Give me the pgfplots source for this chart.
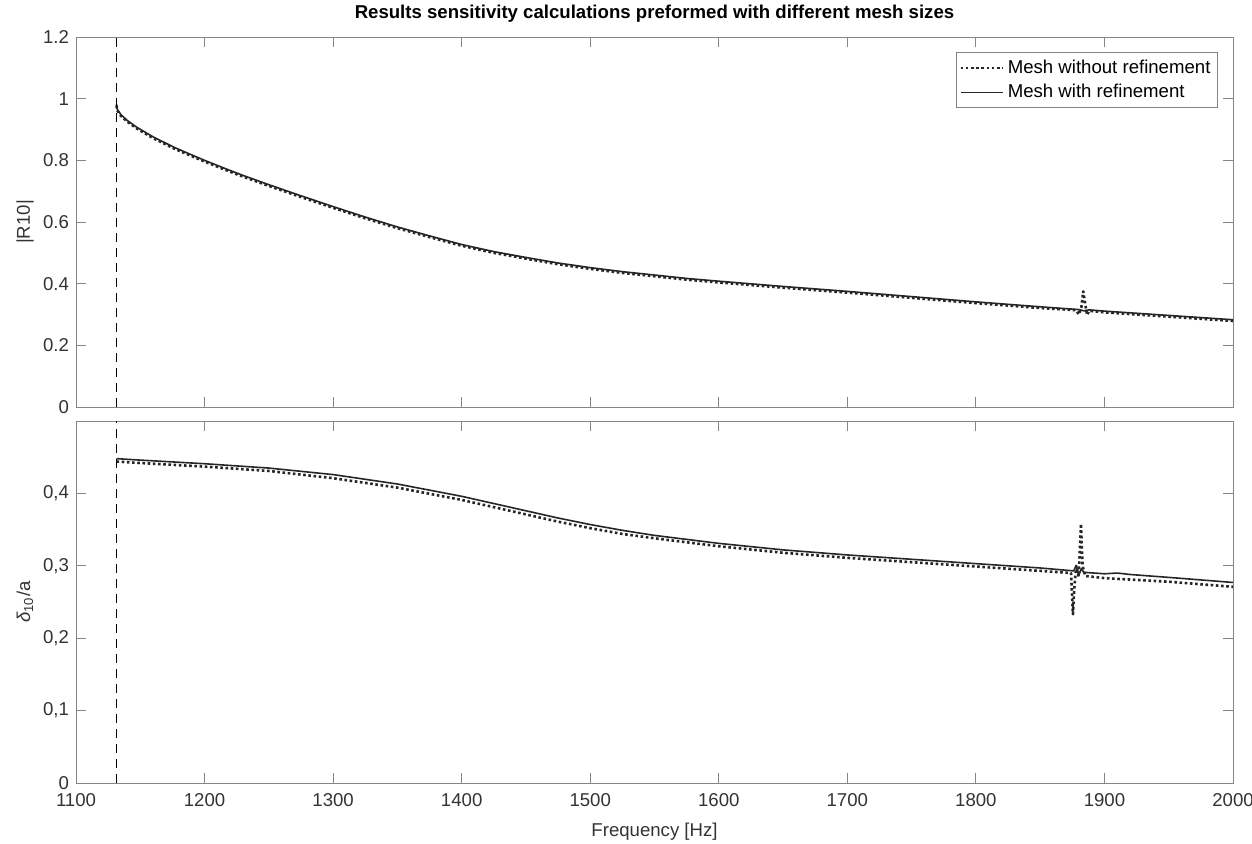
\documentclass[border=0pt]{standalone}
\usepackage{fontspec}
\setmainfont{Liberation Sans}
\usepackage{pgfplots}
\pgfplotsset{compat=1.18}
\definecolor{axgray}{rgb}{0.52,0.52,0.52}
\definecolor{lblgray}{rgb}{0.2,0.2,0.2}
\begin{document}
\begin{tikzpicture}
\pgfplotsset{
  every axis/.append style={
    scale only axis, width=578.5pt,
    xmin=1100, xmax=2000,
    axis line style={axgray, line width=0.5pt},
    every tick/.style={axgray, line width=0.5pt},
    major tick length=5pt,
    tick align=inside,
    xtick={1100,1200,...,2000},
    tick label style={font=\fontsize{9.3}{11}\selectfont, text=lblgray},
    label style={font=\fontsize{9.3}{11}\selectfont, text=lblgray},
    clip=true,
  },
  dotline/.style={black!85, line width=1.3pt, dash pattern=on 1.3pt off 1.3pt, line join=round},
  solline/.style={black!85, line width=0.8pt, line join=round},
  vdash/.style={black, line width=0.6pt, dash pattern=on 4.5pt off 3pt},
}
% top axis
\begin{axis}[
  at={(38pt,218pt)}, anchor=south west, height=185pt,
  ymin=0, ymax=1.2,
  ytick={0,0.2,0.4,0.6,0.8,1,1.2},
  yticklabels={0,0.2,0.4,0.6,0.8,1,1.2},
  xticklabels={},
  ylabel={|R10|},
  ylabel style={at={(rel axis cs:0,0.5)}, anchor=center, yshift=25.5pt},
  title={\bfseries Results sensitivity calculations preformed with different mesh sizes},
  title style={at={(0.5,1)}, anchor=base, yshift=3.5pt, font=\fontsize{9.3}{11}\selectfont, text=black},
  legend style={at={(rel axis cs:0.987,0.959)}, anchor=north east, draw=axgray, line width=0.5pt,
    font=\fontsize{9.3}{11}\selectfont, text=black, inner sep=1.5pt, row sep=0pt,
    cells={anchor=west}},
  legend image code/.code={\draw[#1] (0pt,0pt) -- (21pt,0pt);},
]
\addplot[dotline] coordinates {
(1131.5,0.978) (1132,0.962) (1135,0.944) (1140,0.925) (1147,0.904) (1160,0.872)
(1177,0.837) (1187,0.819) (1200,0.796) (1215,0.771) (1230,0.747) (1250,0.717)
(1275,0.681) (1300,0.646)
(1325,0.612) (1350,0.580) (1375,0.551) (1400,0.523) (1425,0.500) (1450,0.481)
(1475,0.463) (1500,0.448) (1525,0.435) (1550,0.424) (1575,0.413) (1600,0.404)
(1650,0.387) (1700,0.371) (1750,0.354) (1800,0.337) (1850,0.321) (1878,0.314)
(1880,0.300) (1882,0.322) (1883.5,0.375) (1885,0.335) (1886.5,0.298) (1888,0.312)
(1900,0.307) (1950,0.293) (2000,0.279)
};
\addlegendentry{Mesh without refinement}
\addplot[solline] coordinates {
(1131.5,0.982) (1132,0.966) (1135,0.948) (1140,0.929) (1147,0.908) (1160,0.876)
(1177,0.841) (1187,0.823) (1200,0.800) (1215,0.775) (1230,0.751) (1250,0.721)
(1275,0.685) (1300,0.650)
(1325,0.616) (1350,0.584) (1375,0.555) (1400,0.527) (1425,0.504) (1450,0.485)
(1475,0.467) (1500,0.452) (1525,0.439) (1550,0.428) (1575,0.417) (1600,0.408)
(1650,0.391) (1700,0.375) (1750,0.358) (1800,0.341) (1850,0.325) (1880,0.316)
(1884,0.312) (1888,0.315) (1900,0.311) (1950,0.297) (2000,0.283)
};
\addlegendentry{Mesh with refinement}
\addplot[vdash, forget plot] coordinates {(1131.3,0) (1131.3,1.2)};
\end{axis}
% bottom axis
\begin{axis}[
  at={(38pt,30pt)}, anchor=south west, height=181pt,
  ymin=0, ymax=0.5,
  ytick={0,0.1,0.2,0.3,0.4},
  yticklabels={0,{0,1},{0,2},{0,3},{0,4}},
  xticklabels={1100,1200,1300,1400,1500,1600,1700,1800,1900,2000},
  xticklabel style={yshift=-1.5pt},
  xlabel={Frequency [Hz]},
  xlabel style={yshift=-1.5pt},
  ylabel={\textit{δ}\textsubscript{10}/a},
  ylabel style={at={(rel axis cs:0,0.5)}, anchor=center, yshift=25.5pt},
]
\addplot[dotline] coordinates {
(1131.5,0.444) (1150,0.442) (1200,0.437) (1250,0.431) (1300,0.421) (1350,0.408)
(1400,0.391) (1425,0.381) (1450,0.371) (1475,0.361) (1500,0.352) (1525,0.344)
(1550,0.338) (1600,0.327) (1650,0.318)
(1700,0.311) (1750,0.305) (1800,0.299) (1850,0.293) (1874,0.290) (1875.5,0.233)
(1876.5,0.268) (1878,0.300) (1880,0.285) (1881.7,0.358) (1883,0.300) (1885,0.286)
(1900,0.283) (1950,0.278) (2000,0.271)
};
\addplot[solline] coordinates {
(1131.5,0.448) (1150,0.446) (1200,0.441) (1250,0.435) (1300,0.426) (1350,0.413)
(1400,0.396) (1425,0.386) (1450,0.376) (1475,0.366) (1500,0.357) (1525,0.349)
(1550,0.342) (1600,0.331) (1650,0.322)
(1700,0.315) (1750,0.309) (1800,0.303) (1850,0.297) (1876,0.293) (1878,0.300)
(1880,0.287) (1882,0.296) (1884,0.291) (1900,0.289) (1910,0.290) (1920,0.288)
(1950,0.284) (2000,0.277)
};
\addplot[vdash] coordinates {(1131.3,0) (1131.3,0.5)};
\end{axis}
\pgfresetboundingbox
\path (0,0) rectangle (626pt,421.5pt);
\end{tikzpicture}
\end{document}
